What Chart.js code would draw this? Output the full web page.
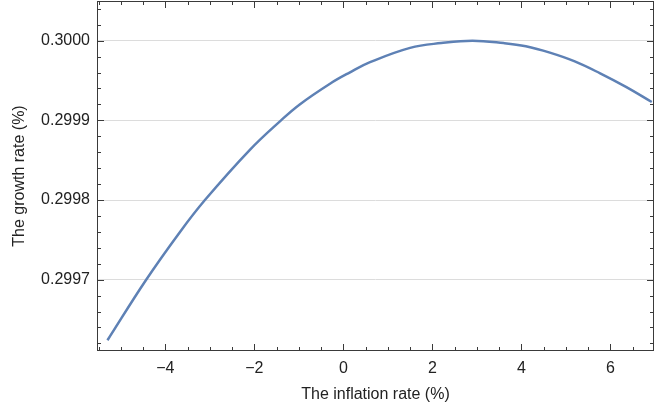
<!DOCTYPE html>
<html>
<head>
<meta charset="utf-8">
<script src="https://cdn.jsdelivr.net/npm/chart.js@4.4.1/dist/chart.umd.min.js"></script>
<style>
    html, body { margin: 0; padding: 0; background: #ffffff; }
    #wrap { width: 654px; height: 408px; }
</style>
</head>
<body>
<div id="wrap"><canvas id="growthChart" width="654" height="408"></canvas></div>
<script>
// values
const inflationRates = [-5.3, -4.43, -3.67, -3.11, -2.1, -1.4, -0.98, -0.3, 0.14, 0.6, 1.5, 2.2, 2.9, 3.6, 4.1, 4.64, 5.2, 5.77, 6.35, 6.93];
const growthRates = [0.299624, 0.2997, 0.29976, 0.2998, 0.299863, 0.2999, 0.29992, 0.299946, 0.29996, 0.299973,
    0.299991, 0.299997, 0.3, 0.299997, 0.299993, 0.299985, 0.299974, 0.299959, 0.299942, 0.299923];
const xTickValues = [-4, -2, 0, 2, 4, 6];
const yTickValues = [0.2997, 0.2998, 0.2999, 0.3];

const lineColor = '#5e81b5';
const frameColor = '#3a3a3a';
const gridColor = '#dcdcdc';
const textColor = '#222222';
const font = { family: 'Liberation Sans, Arial, sans-serif', size: 16 };

// Mathematica-style frame with inward ticks on every side
const frameTicks = {
    id: 'frameTicks',
    afterDatasetsDraw(chart) {
        const { ctx, chartArea: area, scales } = chart;
        ctx.save();
        ctx.strokeStyle = frameColor;
        ctx.lineWidth = 1;
        ctx.strokeRect(area.left + 0.5, area.top + 0.5, area.right - area.left - 1, area.bottom - area.top - 1);

        const drawTicks = (scale, step, ratio, horizontal) => {
            const first = Math.ceil(scale.min / step - 1e-9);
            const last = Math.floor(scale.max / step + 1e-9);
            for (let k = first; k <= last; k++) {
                const len = k % ratio === 0 ? 7 : 4;
                const p = Math.round(scale.getPixelForValue(k * step)) + 0.5;
                ctx.beginPath();
                if (horizontal) {
                    ctx.moveTo(p, area.bottom); ctx.lineTo(p, area.bottom - len);
                    ctx.moveTo(p, area.top); ctx.lineTo(p, area.top + len);
                } else {
                    ctx.moveTo(area.left, p); ctx.lineTo(area.left + len, p);
                    ctx.moveTo(area.right, p); ctx.lineTo(area.right - len, p);
                }
                ctx.stroke();
            }
        };
        drawTicks(scales.x, 0.5, 4, true);
        drawTicks(scales.y, 0.00002, 5, false);
        ctx.restore();
    }
};

new Chart(document.getElementById('growthChart'), {
    type: 'line',
    data: {
        datasets: [{
            data: inflationRates.map((x, i) => ({ x, y: growthRates[i] })),
            borderColor: lineColor,
            borderWidth: 2.5,
            pointRadius: 0,
            tension: 0.4,
            fill: false,
        }],
    },
    options: {
        responsive: false,
        animation: false,
        devicePixelRatio: 1,
        layout: { padding: { top: 1, right: 0, bottom: 0, left: 0 } },
        plugins: { legend: { display: false }, tooltip: { enabled: false } },
        scales: {
            x: {
                type: 'linear',
                min: -5.535,
                max: 6.98,
                afterBuildTicks: scale => { scale.ticks = xTickValues.map(value => ({ value })); },
                afterFit: scale => { scale.height = 57; scale.paddingLeft = 0; scale.paddingRight = 0; },
                grid: { display: false, drawTicks: false },
                border: { display: false },
                ticks: {
                    color: textColor,
                    font,
                    padding: 8,
                    maxRotation: 0,
                    callback: value => (value < 0 ? '\u2212' + Math.abs(value) : String(value)),
                },
                title: { display: true, text: 'The inflation rate (%)', color: textColor, font, padding: { top: 0, bottom: 4 } },
            },
            y: {
                min: 0.2996105,
                max: 0.3000498,
                afterBuildTicks: scale => { scale.ticks = yTickValues.map(value => ({ value })); },
                afterFit: scale => { scale.width = 97; scale.paddingTop = 0; scale.paddingBottom = 0; },
                grid: { color: gridColor, lineWidth: 1, drawTicks: false },
                border: { display: false },
                ticks: {
                    color: textColor,
                    font,
                    padding: 7,
                    callback: value => Number(value).toFixed(4),
                },
                title: { display: true, text: 'The growth rate (%)', color: textColor, font, padding: { top: 10, bottom: 0 } },
            },
        },
    },
    plugins: [frameTicks],
});
</script>
</body>
</html>
